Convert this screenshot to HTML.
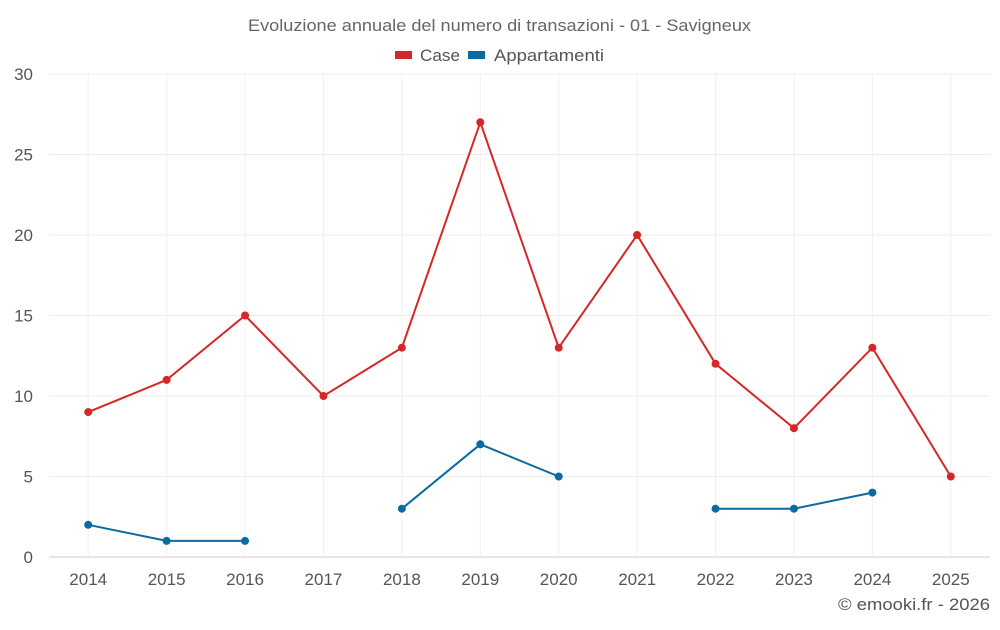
<!DOCTYPE html>
<html><head><meta charset="utf-8"><style>
body{margin:0;background:#fff;font-family:"Liberation Sans",sans-serif;}
svg text{font-family:"Liberation Sans",sans-serif;}
</style></head><body>
<svg id="c" width="1000" height="625">
<text x="248" y="31" font-size="16.5" fill="#666" textLength="503" lengthAdjust="spacingAndGlyphs">Evoluzione annuale del numero di transazioni - 01 - Savigneux</text>
<g>
<g><rect x="395" y="51" width="17" height="8" fill="#d62728"/><text x="420" y="61" font-size="17" fill="#555" textLength="40" lengthAdjust="spacingAndGlyphs">Case</text></g>
<g><rect x="468" y="51" width="17" height="8" fill="#0b6aa2"/><text x="494" y="61" font-size="17" fill="#555" textLength="110" lengthAdjust="spacingAndGlyphs">Appartamenti</text></g>
</g>
<text x="838" y="610" font-size="16.5" fill="#555" textLength="152" lengthAdjust="spacingAndGlyphs">© emooki.fr - 2026</text>
</svg>
<script>
const categories=["2014","2015","2016","2017","2018","2019","2020","2021","2022","2023","2024","2025"];
const caseValues=[9,11,15,10,13,27,13,20,12,8,13,5];
const appValues=[2,1,1,null,3,7,5,null,3,3,4,null];
const yTicks=[0,5,10,15,20,25,30];
const svg=document.getElementById('c');const NS="http://www.w3.org/2000/svg";
const L=49,R=990,T=74,B=557,yMax=30;
const bw=(R-L)/categories.length;
const x=i=>L+bw*(i+0.5);
const y=v=>B-(v/yMax)*(B-T);
function mk(t,a,p){const e=document.createElementNS(NS,t);for(const k in a)e.setAttribute(k,a[k]);(p||svg).appendChild(e);return e;}
const grid=mk('g',{});


yTicks.forEach(v=>{
 mk('line',{x1:L,x2:R,y1:y(v),y2:y(v),stroke:v===0?'#ccc':'#ececec','stroke-width':1},grid);
 const t=mk('text',{x:33,y:y(v)+6,'text-anchor':'end','font-size':17,fill:'#555'});t.textContent=v;
 
 
});
categories.forEach((c,i)=>{
 mk('line',{x1:x(i),x2:x(i),y1:T,y2:B,stroke:'#f0f0f0'},grid);
 const t=mk('text',{x:x(i),y:585,'text-anchor':'middle','font-size':17,fill:'#555'});t.textContent=c;
 
 
});
function series(vals,color,name){
 const g=mk('g',{});
 
 
 let d='',pen=false;
 vals.forEach((v,i)=>{if(v==null){pen=false;return;}d+=(pen?'L':'M')+x(i)+' '+y(v)+' ';pen=true;});
 mk('path',{d:d,fill:'none',stroke:color,'stroke-width':2},g);
 vals.forEach((v,i)=>{if(v==null)return;const p=mk('circle',{cx:x(i),cy:y(v),r:4,fill:color},g);
 
 });
}
series(caseValues,'#d62728','series-case');
series(appValues,'#0b6aa2','series-appartamenti');
</script>
</body></html>
